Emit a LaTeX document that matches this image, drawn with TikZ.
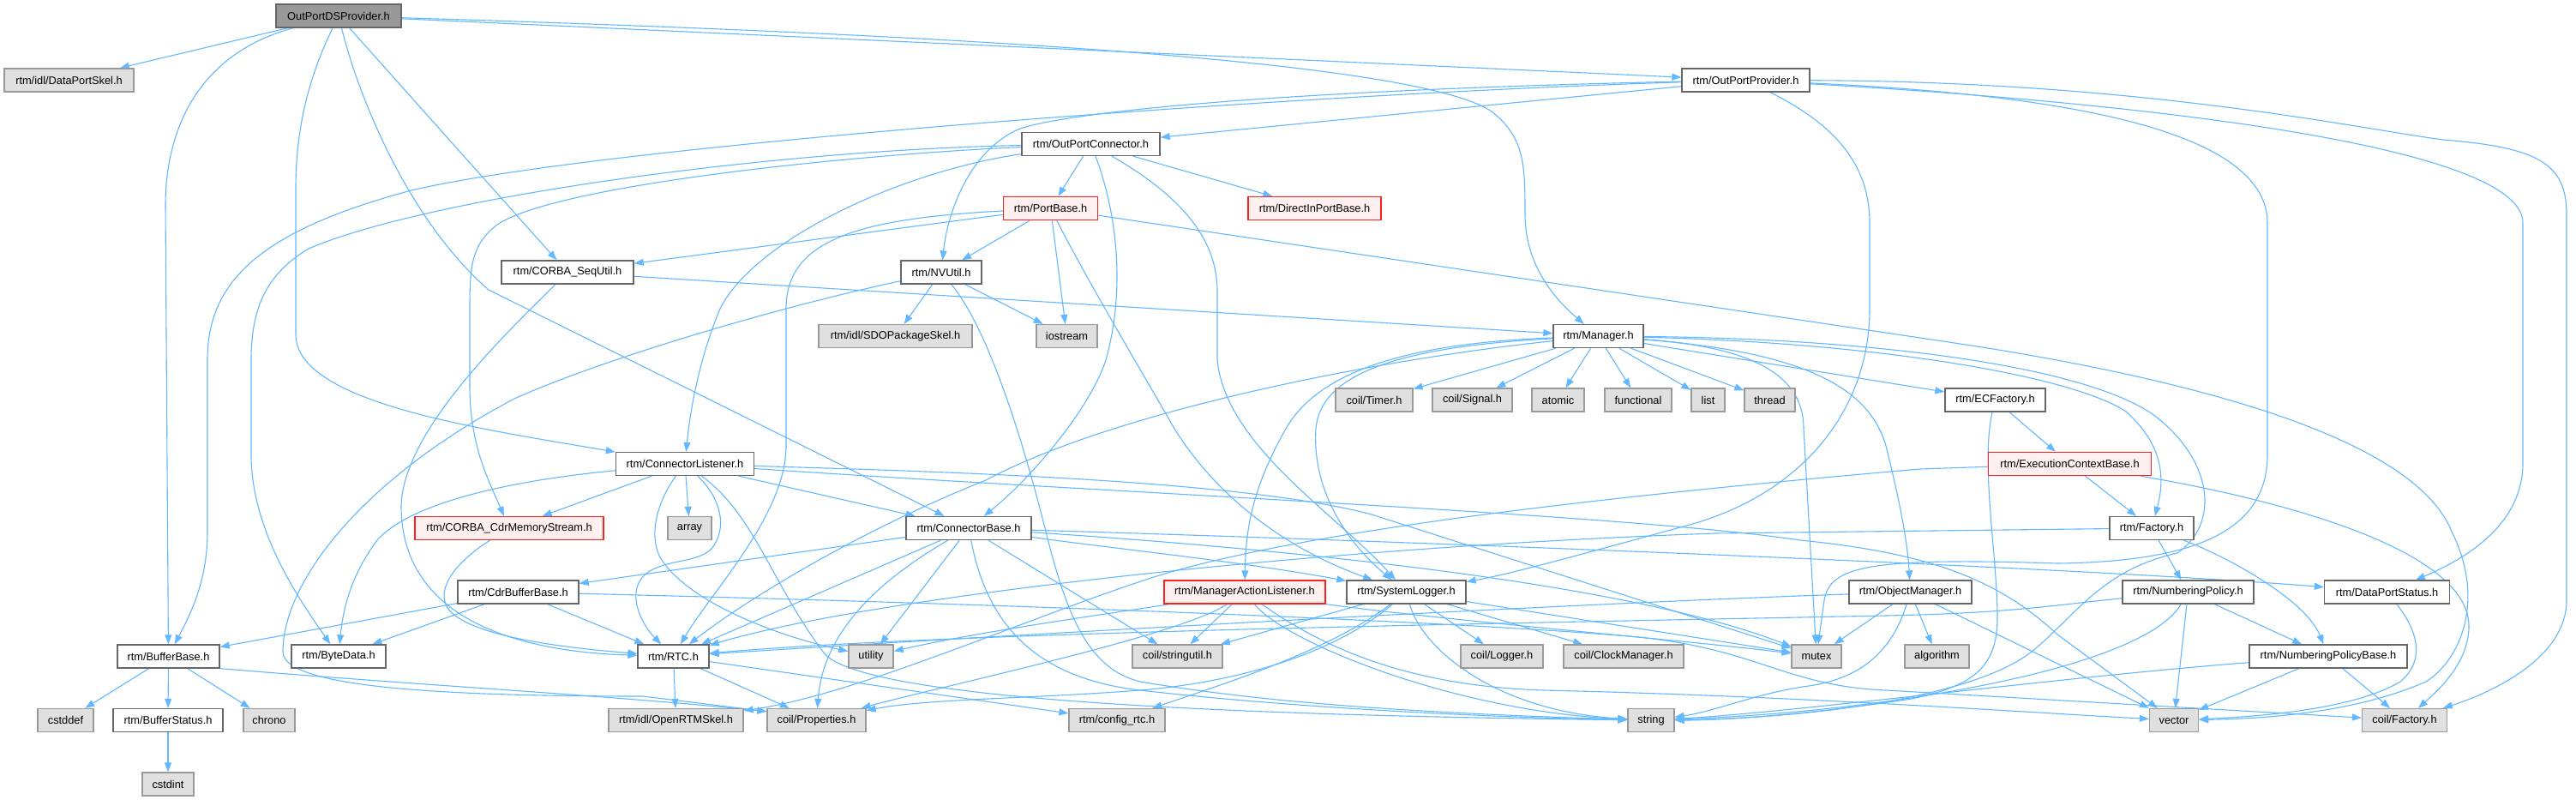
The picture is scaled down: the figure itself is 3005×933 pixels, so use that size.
\documentclass[tikz,border=0pt]{standalone}
\usepackage{fontspec}
\setmainfont{Liberation Sans}
\usetikzlibrary{arrows.meta}
\pgfdeclarelayer{bg}
\pgfsetlayers{bg,main}
\definecolor{edgec}{HTML}{63B8FF}
\definecolor{bdr}{HTML}{666666}
\definecolor{gbdr}{HTML}{999999}
\definecolor{gfill}{HTML}{E0E0E0}
\definecolor{rfill}{HTML}{FFF0F0}
\definecolor{rbdr}{HTML}{FF2020}
\definecolor{mfill}{HTML}{999999}
\begin{document}
\begin{tikzpicture}[x=1pt,y=-1pt,
 nd/.style={draw=bdr,fill=white,line width=1.3pt,minimum height=27pt,inner xsep=1pt,inner ysep=0pt,font=\fontsize{12.8}{14}\selectfont,text=black},
 gr/.style={nd,fill=gfill,draw=gbdr},
 rd/.style={nd,fill=rfill,draw=rbdr},
 mn/.style={nd,fill=mfill,draw=bdr},
 edg/.style={draw=edgec,line width=1.1pt,-{Triangle[length=11pt,width=8pt]}}]
\useasboundingbox (0,0) rectangle (3005,933);
% nodes
\node[mn,minimum width=146pt] (A) at (395,18.5) {OutPortDSProvider.h};
\node[gr,minimum width=151pt] (DPS) at (80.5,93.5) {rtm/idl/DataPortSkel.h};
\node[nd,minimum width=149pt] (OPP) at (2036.5,93.5) {rtm/OutPortProvider.h};
\node[nd,minimum width=161pt] (OPC) at (1272.5,168) {rtm/OutPortConnector.h};
\node[rd,minimum width=110pt] (PB) at (1225.5,243) {rtm/PortBase.h};
\node[rd,minimum width=155pt] (DIPB) at (1533.5,243) {rtm/DirectInPortBase.h};
\node[nd,minimum width=154pt] (SEQ) at (662,317.5) {rtm/CORBA\_SeqUtil.h};
\node[nd,minimum width=94pt] (NV) at (1098,317.5) {rtm/NVUtil.h};
\node[gr,minimum width=179pt] (SDO) at (1044.5,392) {rtm/idl/SDOPackageSkel.h};
\node[gr,minimum width=71pt] (IOS) at (1244.5,392) {iostream};
\node[nd,minimum width=105pt] (MGR) at (1864.5,392) {rtm/Manager.h};
\node[gr,minimum width=90pt] (TIM) at (1603,466.5) {coil/Timer.h};
\node[gr,minimum width=93pt] (SIG) at (1717.5,466.5) {coil/Signal.h};
\node[gr,minimum width=61pt] (ATO) at (1817.5,466.5) {atomic};
\node[gr,minimum width=78pt] (FUN) at (1911,466.5) {functional};
\node[gr,minimum width=39pt] (LST) at (1992.5,466.5) {list};
\node[gr,minimum width=59pt] (THR) at (2064.5,466.5) {thread};
\node[nd,minimum width=117pt] (ECF) at (2327.5,466.5) {rtm/ECFactory.h};
\node[nd,minimum width=161pt] (CL) at (799,541) {rtm/ConnectorListener.h};
\node[rd,minimum width=190pt] (ECB) at (2414.5,541) {rtm/ExecutionContextBase.h};
\node[rd,minimum width=220pt] (CDR) at (594,616) {rtm/CORBA\_CdrMemoryStream.h};
\node[gr,minimum width=51pt] (ARR) at (804.5,616) {array};
\node[nd,minimum width=146pt] (CB) at (1130,616) {rtm/ConnectorBase.h};
\node[nd,minimum width=98pt] (FAC) at (2510,616) {rtm/Factory.h};
\node[nd,minimum width=141pt] (CBB) at (604.5,690.5) {rtm/CdrBufferBase.h};
\node[rd,minimum width=188pt] (MAL) at (1452,690.5) {rtm/ManagerActionListener.h};
\node[nd,minimum width=139pt] (SL) at (1640.5,690.5) {rtm/SystemLogger.h};
\node[nd,minimum width=143pt] (OM) at (2228.5,690.5) {rtm/ObjectManager.h};
\node[nd,minimum width=153pt] (NP) at (2552.5,690.5) {rtm/NumberingPolicy.h};
\node[nd,minimum width=146pt] (DPST) at (2784.5,690.5) {rtm/DataPortStatus.h};
\node[nd,minimum width=119pt] (BB) at (196.5,765.5) {rtm/BufferBase.h};
\node[nd,minimum width=110pt] (BD) at (395,765.5) {rtm/ByteData.h};
\node[nd,minimum width=83pt] (RTC) at (785.5,765.5) {rtm/RTC.h};
\node[gr,minimum width=52pt] (UTL) at (1016,765.5) {utility};
\node[gr,minimum width=105pt] (STU) at (1373.5,765.5) {coil/stringutil.h};
\node[gr,minimum width=96pt] (LOG) at (1752,765.5) {coil/Logger.h};
\node[gr,minimum width=140pt] (CLK) at (1894,765.5) {coil/ClockManager.h};
\node[gr,minimum width=58pt] (MTX) at (2119,765.5) {mutex};
\node[gr,minimum width=75pt] (ALG) at (2259.5,765.5) {algorithm};
\node[nd,minimum width=184pt] (NPB) at (2716,765.5) {rtm/NumberingPolicyBase.h};
\node[gr,minimum width=65pt] (CSD) at (76.5,840) {cstddef};
\node[nd,minimum width=128pt] (BS) at (196,840) {rtm/BufferStatus.h};
\node[gr,minimum width=60pt] (CHR) at (314,840) {chrono};
\node[gr,minimum width=157pt] (ORS) at (788.5,840) {rtm/idl/OpenRTMSkel.h};
\node[gr,minimum width=115pt] (PROP) at (952.5,840) {coil/Properties.h};
\node[gr,minimum width=112pt] (CFG) at (1303,840) {rtm/config\_rtc.h};
\node[gr,minimum width=54pt] (STR) at (1926,840) {string};
\node[gr,minimum width=57pt] (VEC) at (2536,840) {vector};
\node[gr,minimum width=99pt] (CFAC) at (2805,840) {coil/Factory.h};
\node[gr,minimum width=60pt] (CSI) at (196,914.5) {cstdint};
\begin{pgfonlayer}{bg}
\fill[white] (0,0) rectangle (3005,933);
% A
\draw[edg] (A) -- (DPS);
\draw[edg] (A) .. controls (240,60) and (193,140) .. (193,240) -- (BB);
\draw[edg] (A) .. controls (365,80) and (345,140) .. (345,220) -- (345,390) .. controls (345,470) and (560,500) .. (CL);
\draw[edg] (A) .. controls (420,120) and (480,260) .. (570,338) -- (CB);
\draw[edg] (A) -- (SEQ);
\draw[edg] (A) -- (OPP);
\draw[edg] (A) .. controls (1100,40) and (1650,70) .. (1740,130) .. controls (1778,160) and (1779,190) .. (1779,250) .. controls (1779,310) and (1815,350) .. (MGR);
% OPP
\draw[edg] (OPP) -- (OPC);
\draw[edg] (OPP) .. controls (1500,105) and (1250,130) .. (1190,150) .. controls (1130,175) and (1105,250) .. (NV);
\draw[edg] (OPP) .. controls (1500,110) and (700,170) .. (480,222) .. controls (300,270) and (242,330) .. (242,420) -- (242,620) .. controls (242,680) and (220,720) .. (BB);
\draw[edg] (OPP) .. controls (2150,150) and (2181,200) .. (2181,260) -- (2181,360) .. controls (2181,480) and (2100,580) .. (1960,615) .. controls (1850,645) and (1760,670) .. (SL);
\draw[edg] (OPP) .. controls (2400,110) and (2645,150) .. (2645,260) -- (2645,530) .. controls (2645,620) and (2560,655) .. (2400,657) .. controls (2180,650) and (2135,660) .. (2128,700) -- (MTX);
\draw[edg] (OPP) .. controls (2500,120) and (2943,170) .. (2943,260) -- (2943,540) .. controls (2943,610) and (2880,650) .. (DPST);
\draw[edg] (OPP) .. controls (2500,95) and (2750,150) .. (2850,163) .. controls (2960,172) and (2994,190) .. (2994,250) -- (2994,700) .. controls (2994,770) and (2900,810) .. (CFAC);
% OPC
\draw[edg] (OPC) -- (PB);
\draw[edg] (OPC) -- (DIPB);
\draw[edg] (OPC) .. controls (1050,200) and (880,280) .. (840,360) .. controls (815,420) and (805,480) .. (CL);
\draw[edg] (OPC) .. controls (1000,180) and (650,215) .. (580,262) .. controls (550,285) and (548,310) .. (548,360) -- (548,450) .. controls (548,520) and (570,560) .. (CDR);
\draw[edg] (OPC) .. controls (900,175) and (500,230) .. (360,290) .. controls (310,320) and (293,360) .. (293,420) -- (293,530) .. controls (293,620) and (350,700) .. (BD);
\draw[edg] (OPC) .. controls (1300,240) and (1315,330) .. (1290,420) .. controls (1270,480) and (1200,560) .. (CB);
\draw[edg] (OPC) .. controls (1380,230) and (1420,280) .. (1420,340) -- (1420,420) .. controls (1430,520) and (1560,600) .. (SL);
% PB
\draw[edg] (PB) -- (SEQ);
\draw[edg] (PB) -- (NV);
\draw[edg] (PB) -- (IOS);
\draw[edg] (PB) .. controls (1000,255) and (917,280) .. (917,360) -- (917,520) .. controls (917,600) and (830,690) .. (RTC);
\draw[edg] (PB) .. controls (1270,330) and (1330,430) .. (1370,500) .. controls (1420,580) and (1500,640) .. (SL);
\draw[edg] (PB) -- (2300,403) .. controls (2600,450) and (2820,520) .. (2860,620) .. controls (2900,700) and (2870,770) .. (2830,795) .. controls (2750,830) and (2650,838) .. (VEC);
% SEQ
\draw[edg] (SEQ) -- (MGR);
\draw[edg] (SEQ) .. controls (600,380) and (470,500) .. (468,590) .. controls (468,720) and (600,760) .. (RTC);
% NV
\draw[edg] (NV) -- (SDO);
\draw[edg] (NV) -- (IOS);
\draw[edg] (NV) .. controls (1150,380) and (1190,500) .. (1220,620) .. controls (1245,720) and (1270,780) .. (1330,795) .. controls (1450,815) and (1600,830) .. (STR);
\draw[edg] (NV) .. controls (900,360) and (700,420) .. (600,465) .. controls (420,560) and (330,680) .. (330,760) .. controls (330,800) and (500,812) .. (750,812) -- (PROP.170);
% MGR
\foreach \t in {TIM,SIG,ATO,FUN,LST,THR} {\draw[edg] (MGR) -- (\t);}
\draw[edg] (MGR) -- (ECF);
\draw[edg] (MGR) .. controls (1650,400) and (1540,430) .. (1500,500) .. controls (1460,570) and (1453,620) .. (MAL);
\draw[edg] (MGR) .. controls (1620,405) and (1540,440) .. (1535,500) .. controls (1530,580) and (1580,640) .. (SL);
\draw[edg] (MGR) .. controls (1600,420) and (1300,480) .. (1150,560) .. controls (1000,620) and (870,700) .. (RTC);
\draw[edg] (MGR) .. controls (2100,410) and (2180,450) .. (2200,520) .. controls (2215,580) and (2225,630) .. (OM);
\draw[edg] (MGR) .. controls (2050,405) and (2104,440) .. (2104,500) -- (MTX);
\draw[edg] (MGR) .. controls (2200,400) and (2420,440) .. (2480,480) .. controls (2525,520) and (2525,560) .. (FAC);
\draw[edg] (MGR) .. controls (2200,395) and (2450,430) .. (2520,490) .. controls (2580,540) and (2590,610) .. (2540,645) .. controls (2450,665) and (2420,720) .. (2370,760) .. controls (2300,815) and (2100,838) .. (STR);
% ECF
\draw[edg] (ECF) -- (ECB);
\draw[edg] (ECF) .. controls (2310,540) and (2330,650) .. (2330,720) .. controls (2330,780) and (2300,800) .. (2230,815) .. controls (2100,835) and (2000,840) .. (STR);
% ECB
\draw[edg] (ECB) -- (FAC);
\draw[edg] (ECB) .. controls (2700,590) and (2880,650) .. (2880,730) .. controls (2880,770) and (2850,800) .. (CFAC);
\draw[edg] (ECB) -- (2240,547) .. controls (1800,585) and (1500,625) .. (1346,673) .. controls (1200,720) and (1000,810) .. (ORS);
% FAC
\draw[edg] (FAC) -- (NP);
\draw[edg] (FAC) .. controls (2600,650) and (2690,700) .. (NPB);
\draw[edg] (FAC) -- (2000,622) .. controls (1500,640) and (1000,700) .. (RTC);
% CL
\draw[edg] (CL) -- (CDR);
\draw[edg] (CL) -- (ARR);
\draw[edg] (CL) -- (CB);
\draw[edg] (CL) .. controls (600,560) and (480,585) .. (440,630) .. controls (410,670) and (400,710) .. (BD);
\draw[edg] (CL) .. controls (840,580) and (850,615) .. (830,640) .. controls (810,660) and (760,650) .. (745,680) .. controls (735,700) and (750,730) .. (RTC);
\draw[edg] (CL) .. controls (770,580) and (755,620) .. (770,650) .. controls (800,700) and (900,740) .. (UTL);
\draw[edg] (CL) .. controls (880,600) and (900,680) .. (960,760) .. controls (1000,820) and (1500,835) .. (STR);
\draw[edg] (CL) .. controls (1100,550) and (1450,560) .. (1600,600) -- (MTX);
\draw[edg] (CL) .. controls (1300,575) and (1900,600) .. (2100,630) .. controls (2250,645) and (2330,675) .. (2400,740) -- (VEC);
% CB
\draw[edg] (CB) -- (CBB);
\draw[edg] (CB) -- (RTC);
\draw[edg] (CB) .. controls (1020,680) and (960,740) .. (PROP);
\draw[edg] (CB) -- (UTL);
\draw[edg] (CB) -- (STU);
\draw[edg] (CB) .. controls (1150,720) and (1200,790) .. (1330,805) .. controls (1550,830) and (1800,838) .. (STR);
\draw[edg] (CB) .. controls (1300,640) and (1450,655) .. (SL);
\draw[edg] (CB) .. controls (1600,630) and (2400,660) .. (DPST);
\draw[edg] (CB) .. controls (1500,640) and (1900,680) .. (MTX);
% CDR
\draw[edg] (CDR) .. controls (540,650) and (510,680) .. (520,705) .. controls (535,740) and (650,755) .. (RTC);
% CBB
\draw[edg] (CBB) -- (BB);
\draw[edg] (CBB) -- (BD);
\draw[edg] (CBB) -- (RTC);
\draw[edg] (CBB) .. controls (1200,705) and (1700,725) .. (1900,742) .. controls (2050,755) and (2080,800) .. (2200,805) -- (CFAC);
% MAL
\draw[edg] (MAL) .. controls (1300,715) and (1150,735) .. (UTL);
\draw[edg] (MAL) -- (STU);
\draw[edg] (MAL) .. controls (1380,740) and (1100,800) .. (PROP);
\draw[edg] (MAL) .. controls (1500,750) and (1700,830) .. (STR);
\draw[edg] (MAL) .. controls (1550,760) and (1650,800) .. (1800,805) .. controls (2100,812) and (2350,830) .. (VEC);
\draw[edg] (MAL.south east) .. controls (1700,725) and (1950,745) .. (MTX);
% SL
\draw[edg] (SL) -- (STU);
\draw[edg] (SL) .. controls (1560,760) and (1450,795) .. (1330,805) .. controls (1200,815) and (1080,815) .. (PROP);
\draw[edg] (SL) .. controls (1550,760) and (1420,800) .. (CFG);
\draw[edg] (SL) .. controls (1660,760) and (1750,830) .. (STR);
\draw[edg] (SL) -- (LOG);
\draw[edg] (SL) -- (CLK);
\draw[edg] (SL) -- (MTX);
% OM
\draw[edg] (OM) -- (MTX);
\draw[edg] (OM) -- (ALG);
\draw[edg] (OM) -- (VEC);
\draw[edg] (OM) .. controls (2210,750) and (2180,790) .. (2110,800) .. controls (2050,808) and (2000,830) .. (STR);
\draw[edg] (OM) .. controls (1800,705) and (1100,745) .. (RTC);
% NP
\draw[edg] (NP) -- (NPB);
\draw[edg] (NP) -- (VEC);
\draw[edg] (NP) .. controls (2500,780) and (2200,830) .. (STR);
\draw[edg] (NP) .. controls (2400,705) and (2350,715) .. (2200,718) .. controls (1700,728) and (1100,738) .. (RTC);
% DPST
\draw[edg] (DPST) .. controls (2820,735) and (2830,770) .. (2800,795) .. controls (2750,825) and (2650,835) .. (VEC);
% NPB
\draw[edg] (NPB) -- (VEC);
\draw[edg] (NPB) -- (CFAC);
\draw[edg] (NPB) .. controls (2400,790) and (2100,830) .. (STR);
% BB
\draw[edg] (BB) -- (CSD);
\draw[edg] (BB) -- (BS);
\draw[edg] (BB) -- (CHR);
\draw[edg] (BB.south east) .. controls (500,800) and (700,810) .. (PROP.170);
\draw[edg] (BS) -- (CSI);
% RTC
\draw[edg] (RTC) -- (ORS);
\draw[edg] (RTC) -- (PROP);
\draw[edg] (RTC) -- (CFG);
\end{pgfonlayer}
\end{tikzpicture}
\end{document}
